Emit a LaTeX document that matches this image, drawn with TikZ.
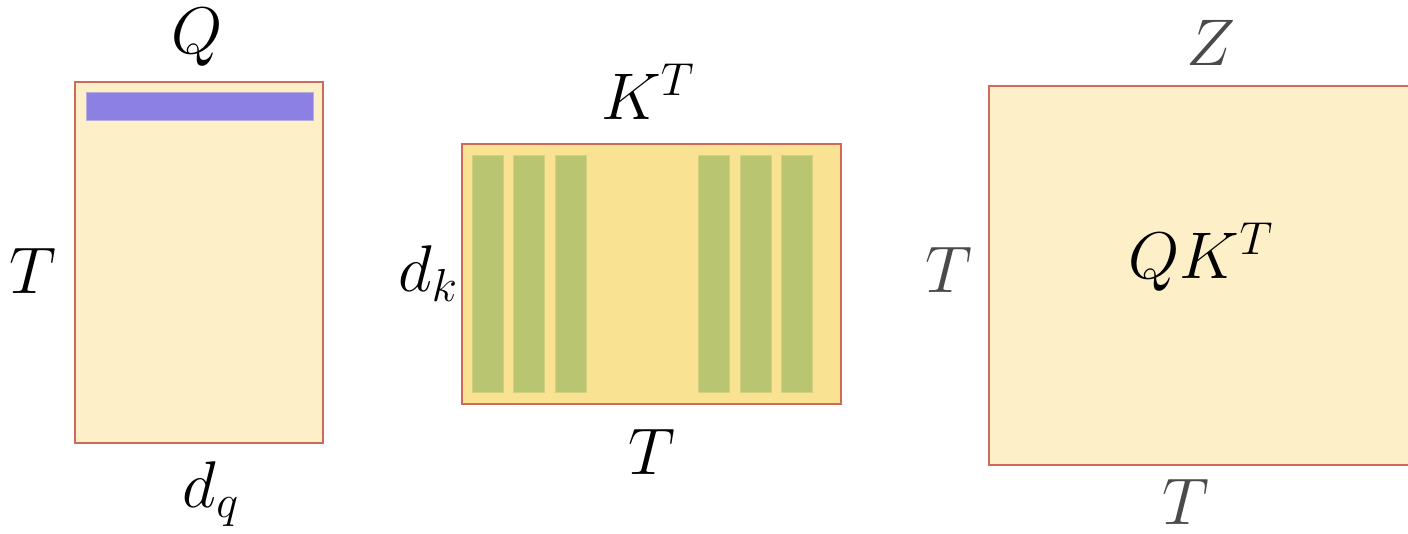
\RequirePackage{fix-cm}
\documentclass[tikz,border=0pt]{standalone}
\usepackage{amsmath}
\definecolor{cream}{HTML}{FDF0C9}
\definecolor{sand}{HTML}{FAE293}
\definecolor{edge}{HTML}{CF6A5A}
\definecolor{rowc}{HTML}{8C80E4}
\definecolor{colc}{HTML}{B9C571}
\definecolor{lab}{HTML}{4A4A4A}
\tikzset{
  mat/.style={draw=edge, line width=0.8pt},
  rowbar/.style={fill=rowc, draw=rowc!60!cream, line width=0.4pt},
  colbar/.style={fill=colc, draw=colc!60!sand, line width=0.4pt},
  lbl/.style={inner sep=0pt, font=\fontsize{33}{40}\selectfont},
  glbl/.style={lbl, text=lab},
}
\begin{document}
\begin{tikzpicture}[x=0.5pt, y=-0.5pt]
\useasboundingbox (0,0) rectangle (1408,534);

% Q matrix with one highlighted row
\draw[mat, fill=cream] (75,82) rectangle (323,443);
\fill[rowbar] (86,92) rectangle (313,120);
\node[lbl] (q) at (197,37) {$Q$};
\node[lbl] (qrows) at (33,271) {$T$};
\node[lbl] (qcols) at (211,494) {$d_q$};

% K transpose with its columns
\draw[mat, fill=sand] (462,144) rectangle (841,404);
\foreach \x in {472,513,555,698,740,781}
  \fill[colbar] (\x,155) rectangle (\x+31,392);
\node[lbl] (kt) at (648,92) {$K^T$};
\node[lbl] (krows) at (428,274) {$d_k$};
\node[lbl] (kcols) at (652,452) {$T$};

% score matrix, running past the right edge
\begin{scope}
\clip (0,0) rectangle (1408,534);
\draw[mat, fill=cream] (989,86) rectangle (1440,465);
\end{scope}
\node[lbl] (qkt) at (1201,257) {$QK^T$};
\node[glbl] (z) at (1211,43) {$Z$};
\node[glbl] (zrows) at (949,270) {$T$};
\node[glbl] (zcols) at (1186,502) {$T$};
\end{tikzpicture}
\end{document}
